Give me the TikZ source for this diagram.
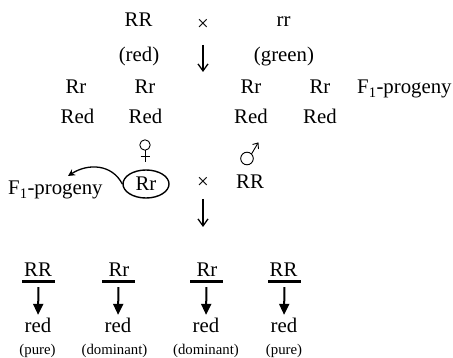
\documentclass[tikz,border=0pt]{standalone}
\usepackage{fontspec}
\setmainfont{Liberation Serif}
\usetikzlibrary{arrows.meta,shapes.geometric}
\tikzset{
  txt/.style={font=\fontsize{20.8}{22}\selectfont, inner sep=0pt, anchor=base},
  sm/.style={font=\fontsize{14.8}{16}\selectfont, inner sep=0pt, anchor=base},
  thinarrow/.style={line width=1.6pt, -{Straight Barb[length=7pt,width=10pt,line width=1.3pt]}},
  bigarrow/.style={line width=2pt, -{Triangle[length=11pt,width=10pt]}, shorten <=3.5pt, shorten >=3.5pt},
  genbar/.style={fill=black, inner sep=0pt, minimum width=33pt, minimum height=3pt},
  sexsym/.style={line width=0.9pt}
}
\begin{document}
\begin{tikzpicture}[x=1pt,y=-1pt]
\useasboundingbox (0,0) rectangle (453,358);
% parents
\node[txt] (p1) at (138.5,27) {RR};
\node[txt] (x1) at (203,31) {×};
\node[txt] (p2) at (283.5,27) {rr};
\node[txt] (c1) at (139,62) {(red)};
\node[txt] (c2) at (284,62) {(green)};
\coordinate (a1s) at (203,45);
\coordinate (a1e) at (203,72);
\draw[thinarrow] (a1s) -- (a1e);
% F1
\node[txt] (f1) at (76,94) {Rr};
\node[txt] (f2) at (145,94) {Rr};
\node[txt] (f3) at (251,94) {Rr};
\node[txt] (f4) at (320,94) {Rr};
\node[txt, anchor=base west] (f1lab) at (357,94) {F\textsubscript{1}-progeny};
\node[txt] (r1) at (77.5,124) {Red};
\node[txt] (r2) at (145.5,124) {Red};
\node[txt] (r3) at (251,124) {Red};
\node[txt] (r4) at (320,124) {Red};
% female symbol
\draw[sexsym] (145,145) circle (5.2);
\draw[sexsym] (145,150.2) -- (145,162);
\draw[sexsym] (140.5,156.5) -- (149.5,156.5);
% male symbol
\draw[sexsym] (247,158.5) circle (6.3);
\draw[sexsym] (251.5,154) -- (258,143);
\draw[sexsym] (252.5,144.5) -- (258,143) -- (258.5,149);
% cross 2
\node[txt, draw, ellipse, line width=1.4pt, minimum width=46pt, minimum height=28pt, inner sep=0pt, anchor=center] (mom) at (146,184) {Rr};
\node[txt, anchor=base west] (f1b) at (8,195) {F\textsubscript{1}-progeny};
\draw[line width=1.3pt, -{Stealth[length=7pt,width=7pt]}] (mom.west) .. controls (112,164) and (88,163) .. (68,176);
\node[txt] (x2) at (203,189) {×};
\node[txt] (dad) at (250,189) {RR};
\coordinate (a2s) at (203,199);
\coordinate (a2e) at (203,227);
\draw[thinarrow] (a2s) -- (a2e);
% F2
\node[txt] (g1) at (38,277) {RR};
\node[txt] (g2) at (119,277) {Rr};
\node[txt] (g3) at (207,277) {Rr};
\node[txt] (g4) at (283.5,277) {RR};
\node[genbar] (b1) at (38.5,282) {};
\node[genbar] (b2) at (118.5,282) {};
\node[genbar] (b3) at (206.5,282) {};
\node[genbar] (b4) at (284.5,282) {};
\node[txt] (d1) at (38,333) {red};
\node[txt] (d2) at (118,333) {red};
\node[txt] (d3) at (206,333) {red};
\node[txt] (d4) at (284,333) {red};
\draw[bigarrow] (b1.south) -- (d1.north);
\draw[bigarrow] (b2.south) -- (d2.north);
\draw[bigarrow] (b3.south) -- (d3.north);
\draw[bigarrow] (b4.south) -- (d4.north);
\node[sm] (e1) at (37.5,355) {(pure)};
\node[sm] (e2) at (114.5,355) {(dominant)};
\node[sm] (e3) at (206,355) {(dominant)};
\node[sm] (e4) at (284,355) {(pure)};
\end{tikzpicture}
\end{document}
